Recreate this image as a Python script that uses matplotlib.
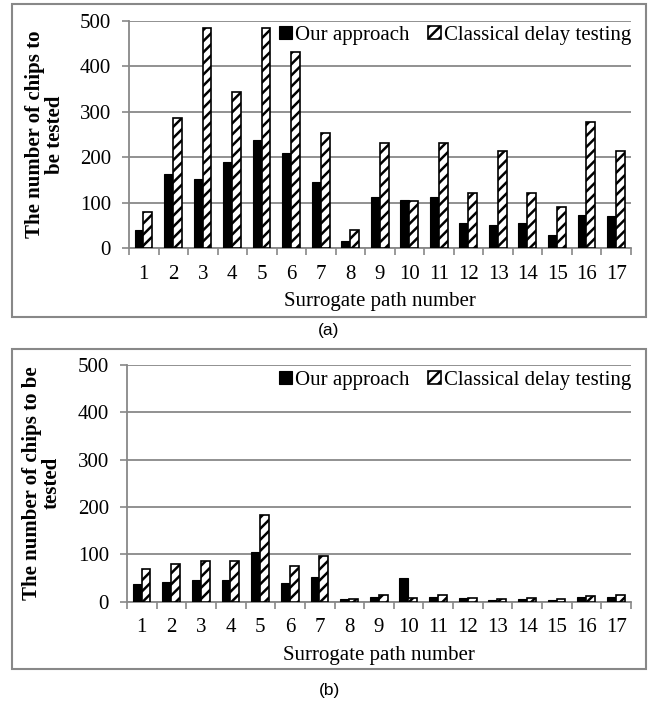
import numpy as np
import matplotlib
matplotlib.use('Agg')
import matplotlib.pyplot as plt
from matplotlib.patches import Rectangle

plt.rcParams['font.family'] = ['Liberation Serif', 'DejaVu Serif']
plt.rcParams['hatch.linewidth'] = 1.8
plt.rcParams['hatch.color'] = 'black'

# ---- data ----
paths = list(range(1, 18))
series_names = ['Our approach', 'Classical delay testing']

ours_a = [40, 162, 151, 189, 238, 208, 145, 15, 112, 106, 112, 55, 51, 55, 28, 73, 71]
classical_a = [79, 285, 485, 344, 485, 432, 252, 40, 232, 103, 232, 121, 214, 121, 90, 278, 214]

ours_b = [38, 42, 46, 46, 106, 40, 53, 6, 10, 51, 10, 7, 3, 6, 4, 9, 10]
classical_b = [70, 79, 87, 87, 184, 75, 97, 6, 14, 8, 14, 8, 6, 8, 6, 13, 14]

y_ticks = [0, 100, 200, 300, 400, 500]
ylabel_a = 'The number of chips to\nbe tested'
ylabel_b = 'The number of chips to be\ntested'
xlabel = 'Surrogate path number'

GRAY = '#888888'
FS = 15
W, H = 651, 704


def px_box(left, top, right, bottom):
    """pixel box (from top-left) -> figure fraction [l, b, w, h]"""
    return [left / W, 1 - bottom / H, (right - left) / W, (bottom - top) / H]


def draw_panel(fig, ax_box, frame_box, ours, classical, ylabel, ylabel_x, tag, tag_y):
    ax = fig.add_axes(px_box(*ax_box))
    x = np.array(paths)
    bw = 0.3
    ax.bar(x - bw / 2 - 0.01, ours, width=bw, color='black', edgecolor='black',
           linewidth=0.8, label=series_names[0], zorder=3)
    ax.bar(x + bw / 2 - 0.01, classical, width=bw, color='white', edgecolor='black',
           hatch='///', linewidth=1.2, label=series_names[1], zorder=3)

    ax.set_xlim(0.5, 17.5)
    ax.set_ylim(0, 500)
    ax.set_yticks(y_ticks)
    ax.yaxis.grid(True, color=GRAY, linewidth=1.3, zorder=0)
    ax.set_axisbelow(True)

    # labels at centers, tick marks at the category boundaries
    ax.set_xticks(x)
    ax.set_xticklabels([str(p) for p in paths])
    ax.set_xticks(np.arange(0.5, 18, 1), minor=True)
    ax.tick_params(axis='x', which='major', length=0, pad=12, labelsize=FS)
    ax.tick_params(axis='x', which='minor', length=5, width=1.2, color=GRAY)
    ax.tick_params(axis='y', length=5, width=1.2, color=GRAY, pad=8, labelsize=FS)

    for side in ['top', 'right']:
        ax.spines[side].set_visible(False)
    for side in ['left', 'bottom']:
        ax.spines[side].set_color(GRAY)
        ax.spines[side].set_linewidth(1.3)

    ax.set_xlabel(xlabel, fontsize=FS, labelpad=6)

    # y label placed in figure coords so both lines sit like the original
    cy = 1 - (ax_box[1] + ax_box[3]) / 2 / H
    fig.text(ylabel_x / W, cy, ylabel, rotation=90, ha='center', va='center',
             fontsize=FS, fontweight='bold', linespacing=1.0)

    leg_y = 1 - 15 / (ax_box[3] - ax_box[1])
    ax.legend(loc='center right', bbox_to_anchor=(1.0, leg_y), ncol=2, frameon=False,
              fontsize=FS, handlelength=0.6, handleheight=0.6, handletextpad=0.15,
              columnspacing=0.9, borderaxespad=0, borderpad=0)

    # grey frame round the chart area
    l, t, r, b = frame_box
    fig.patches.append(Rectangle((l / W, 1 - b / H), (r - l) / W, (b - t) / H,
                                 transform=fig.transFigure, fill=False,
                                 edgecolor=GRAY, linewidth=1.5))
    fig.text(329 / W, 1 - tag_y / H, tag, ha='center', va='center',
             fontsize=12.5, family='Liberation Sans')
    return ax


fig = plt.figure(figsize=(W / 100, H / 100), dpi=100)

draw_panel(fig, (129, 20.7, 631, 248), (12, 4, 646, 317),
           ours_a, classical_a, ylabel_a, 45, '(a)', 331)
draw_panel(fig, (127, 365, 631, 601.7), (12, 349, 646, 669),
           ours_b, classical_b, ylabel_b, 42, '(b)', 690)

plt.savefig('out.png', dpi=100)
plt.close()
